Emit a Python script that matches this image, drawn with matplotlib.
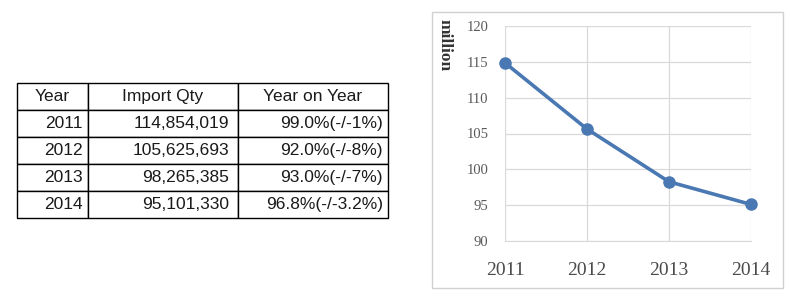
import matplotlib.pyplot as plt
from matplotlib.patches import Rectangle

# data
years = [2011, 2012, 2013, 2014]
import_qty = [114854019, 105625693, 98265385, 95101330]
yoy = ["99.0%(-/-1%)", "92.0%(-/-8%)", "93.0%(-/-7%)", "96.8%(-/-3.2%)"]
headers = ["Year", "Import Qty", "Year on Year"]
y_ticks = [90, 95, 100, 105, 110, 115, 120]

W, H = 795, 299
fig = plt.figure(figsize=(W / 100, H / 100), dpi=100)

# -------------------------------
# table on the left
# -------------------------------
col_px = [71, 150, 150]
pad_px = [5, 9, 5]
tax = fig.add_axes([17 / W, (H - 218) / H, sum(col_px) / W, (218 - 83) / H])
tax.axis("off")
rows = [[str(y), f"{q:,}", r] for y, q, r in zip(years, import_qty, yoy)]
tbl = tax.table(cellText=rows, colLabels=headers, bbox=[0, 0, 1, 1],
                colWidths=[c / sum(col_px) for c in col_px], cellLoc="right")
tbl.auto_set_font_size(False)
for (r, c), cell in tbl.get_celld().items():
    cell.set_linewidth(1.0)
    cell.set_edgecolor("black")
    cell.get_text().set_fontfamily("Liberation Sans")
    cell.get_text().set_fontsize(12.5)
    cell.get_text().set_color("#1a1a1a")
    if r == 0:
        cell.get_text().set_ha("center")
        cell._loc = "center"
    else:
        cell.PAD = pad_px[c] / col_px[c]

# -------------------------------
# line chart on the right
# -------------------------------
fig.patches.append(Rectangle((432 / W, (H - 288) / H), (783 - 432) / W, (288 - 12) / H,
                             transform=fig.transFigure, fill=False,
                             edgecolor="#d0d0d0", linewidth=1.0))

ax = fig.add_axes([505 / W, (H - 241) / H, 246 / W, 215 / H])
values_m = [q / 1e6 for q in import_qty]
ax.plot(years, values_m, color="#4a78b3", linewidth=2.6, marker="o",
        markersize=8, clip_on=False, zorder=3)
ax.set_xlim(2011, 2014)
ax.set_ylim(90, 120)
ax.set_xticks(years)
ax.set_yticks(y_ticks)
ax.grid(True, color="#d9d9d9", linewidth=0.9)
ax.set_axisbelow(True)
for s in ["top", "right", "left"]:
    ax.spines[s].set_visible(False)
ax.spines["bottom"].set_color("#d9d9d9")
ax.tick_params(length=0)
ax.tick_params(axis="y", labelsize=10.5, labelcolor="#595959", pad=12)
ax.tick_params(axis="x", labelsize=14, labelcolor="#4a4a4a", pad=15)
for lbl in ax.get_xticklabels() + ax.get_yticklabels():
    lbl.set_fontfamily("Liberation Serif")

fig.text(445 / W, (H - 19) / H, "million", rotation=-90, ha="center", va="top",
         fontsize=12.5, fontfamily="Liberation Serif", fontweight="bold", color="#333333")

fig.savefig("out.png", dpi=100)
